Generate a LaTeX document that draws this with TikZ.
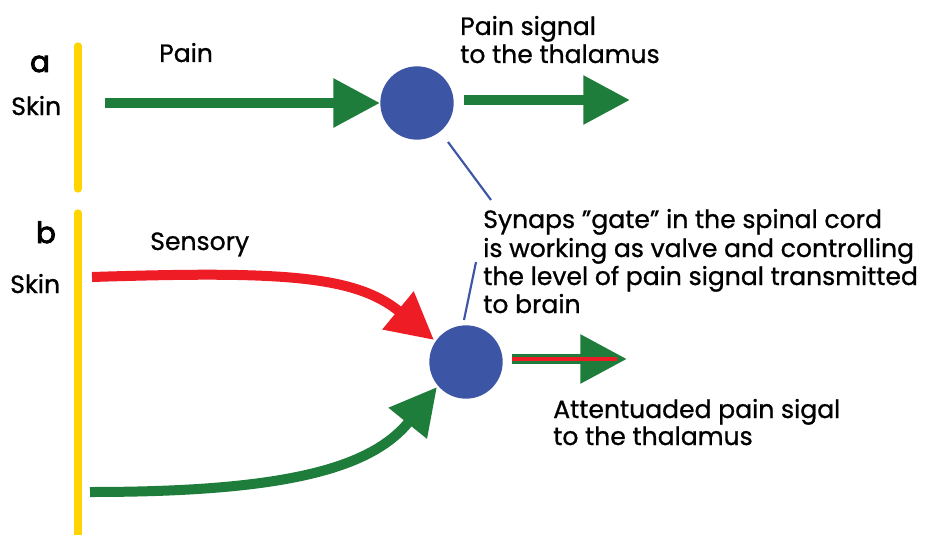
\documentclass[tikz,border=0pt]{standalone}
\usepackage{fontspec}
\setmainfont{Poppins}[FakeBold=0.9]
\newfontfamily\boldface{Poppins}[FakeBold=3]
\usetikzlibrary{arrows.meta}
\definecolor{gr}{HTML}{1F7D3B}
\definecolor{rd}{HTML}{EE1C25}
\definecolor{bl}{HTML}{3C55A4}
\definecolor{ye}{HTML}{FFD400}
\begin{document}
\begin{tikzpicture}[x=0.75pt,y=-0.75pt,
  skinline/.style={ye,line width=5.5pt,line cap=round},
  sig/.style={line width=7.5pt,-{Triangle[length=35pt,width=35pt]}},
  gate/.style={circle,fill=bl,minimum size=55pt,inner sep=0pt},
  lbl/.style={anchor=base west,inner sep=0pt,font=\fontsize{18.8}{21}\selectfont},
  big/.style={anchor=base,inner sep=0pt,font=\fontsize{22}{24}\boldface},
  ptr/.style={bl,line width=1.6pt}]
\useasboundingbox (0,0) rectangle (928,535);
% skin lines
\draw[skinline] (78,46) coordinate (ya1) -- (78,189) coordinate (ya2);
\draw[skinline] (78,213) coordinate (yb1) -- (78,540) coordinate (yb2);
% labels
\node[big] (la) at (40,72) {a};
\node[lbl] (skina) at (11,115) {Skin};
\node[big] (lb) at (46,243) {b};
\node[lbl] (skinb) at (10,293) {Skin};
\node[lbl] (pain) at (159,62) {Pain};
\node[lbl] (sens) at (150,250) {Sensory};
\node[lbl] (ps1) at (460,35) {Pain signal};
\node[lbl] (ps2) at (460,63) {to the thalamus};
\node[lbl] (g1) at (483,228) {Synaps "gate" in the spinal cord};
\node[lbl] (g2) at (483,257) {is working as valve and controlling};
\node[lbl] (g3) at (483,285) {the level of pain signal transmitted};
\node[lbl] (g4) at (483,313) {to brain};
\node[lbl] (at1) at (553,418) {Attentuaded pain sigal};
\node[lbl] (at2) at (553,445) {to the thalamus};
% gates
\node[gate] (ca) at (417,103) {};
\node[gate] (cb) at (466,362) {};
% part a arrows
\coordinate (sa) at (105,103);
\coordinate (ta) at (630,100);
\draw[sig,gr] (sa) -- (ca.west);
\draw[sig,gr] (ca.east |- ta) ++(10,0) -- (ta);
% part b arrows
\coordinate (sr) at (92,277);
\coordinate (sg) at (90,492);
\draw[sig,rd] (sr) .. controls (280,271) and (355,275) .. (434,340);
\draw[sig,gr] (sg) .. controls (280,492) and (370,470) .. (437,387);
\coordinate (tb) at (627,359);
\draw[sig,gr] (512,359) -- (tb);
\draw[rd,line width=2.8pt] (512,359) -- (617,359);
% pointer lines
\draw[ptr] (448,142) -- (491,200);
\draw[ptr] (476,262) -- (464,320);
\end{tikzpicture}
\end{document}
